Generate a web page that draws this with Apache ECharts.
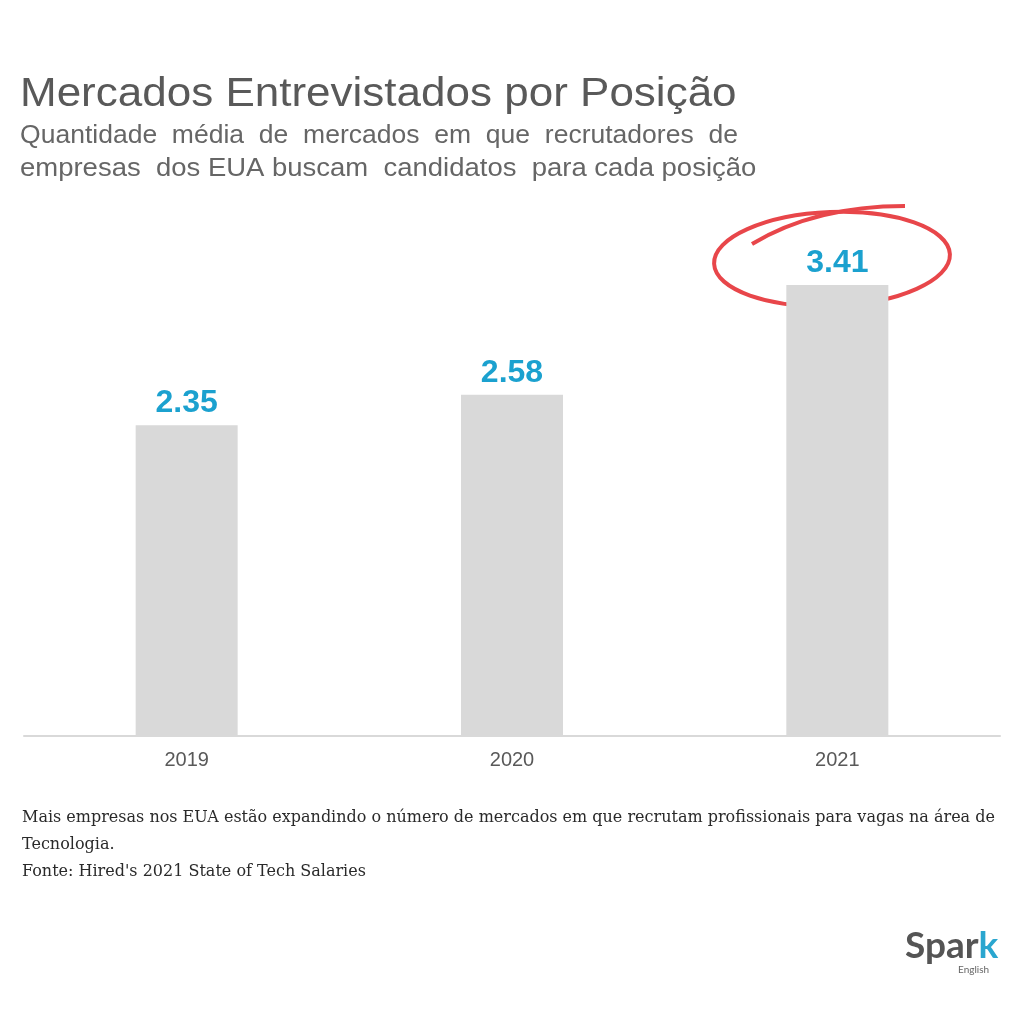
<!DOCTYPE html>
<html>
<head>
<meta charset="utf-8">
<style>html,body{margin:0;padding:0;background:#fff}#c{width:1024px;height:1024px}</style>
<script src="https://cdn.jsdelivr.net/npm/echarts@6/dist/echarts.min.js"></script>
</head>
<body>
<div id="c"></div>
<script>
var categories = ['2019', '2020', '2021'];
var values = [2.35, 2.58, 3.41];
var titleText = 'Mercados Entrevistados por Posição';
var subtitleLine1 = 'Quantidade  média  de  mercados  em  que  recrutadores  de';
var subtitleLine2 = 'empresas  dos EUA buscam  candidatos  para cada posição';
var noteLines = ['Mais empresas nos EUA estão expandindo o número de mercados em que recrutam profissionais para vagas na área de', 'Tecnologia.', "Fonte: Hired's 2021 State of Tech Salaries"];

var chart = echarts.init(document.getElementById('c'));
chart.setOption({
  backgroundColor: '#fff',
  animation: false,
  grid: {left: 24, right: 24, top: 207, bottom: 288},
  xAxis: {
    type: 'category', data: categories,
    axisLine: {lineStyle: {color: '#d9d9d9', width: 2}},
    axisTick: {show: false},
    axisLabel: {color: '#595959', fontSize: 20, fontFamily: 'Liberation Sans', margin: 14}
  },
  yAxis: {type: 'value', min: 0, max: 4, show: false, splitLine: {show: false}},
  series: [{
    type: 'bar', data: values, barWidth: 102,
    itemStyle: {color: '#d9d9d9'},
    label: {show: true, position: 'top', distance: 6, color: '#1ba1cf', fontSize: 32, fontWeight: 'bold', fontFamily: 'Liberation Sans',
      formatter: function(p){return p.value.toFixed(2);}}
  }],
  graphic: [
    {type: 'text', x: 20, y: 75, scaleX: 1.1, style: {text: titleText, fontSize: 40, fontFamily: 'Liberation Sans', fill: '#595959'}},
    {type: 'text', x: 20, y: 123, scaleX: 1.02, style: {text: subtitleLine1, fontSize: 26, fontFamily: 'Liberation Sans', fill: '#666'}},
    {type: 'text', x: 20, y: 156, scaleX: 1.057, style: {text: subtitleLine2, fontSize: 26, fontFamily: 'Liberation Sans', fill: '#666'}},
    {type: 'ellipse', shape: {cx: 832, cy: 259, rx: 118, ry: 47}, rotation: 0.04, originX: 832, originY: 259,
      style: {fill: 'none', stroke: '#e8464a', lineWidth: 4}},
    {type: 'bezierCurve', shape: {x1: 752, y1: 244, cpx1: 815, cpy1: 206, x2: 905, y2: 206}, style: {fill: 'none', stroke: '#e8464a', lineWidth: 4}},
    {type: 'text', x: 22, y: 804, style: {text: noteLines.join('\n'), fontSize: 16, lineHeight: 27, fontFamily: 'DejaVu Serif', fill: '#2a2a2a'}},
    {type: 'text', x: 905, y: 928, style: {rich: {a: {fontSize: 37, fontWeight: 'bold', fontFamily: 'Lato', fill: '#555'}, b: {fontSize: 37, fontWeight: 'bold', fontFamily: 'Lato', fill: '#2aa6cf'}}, text: '{a|Spar}{b|k}'}},
    {type: 'text', x: 958, y: 965, style: {text: 'English', fontSize: 10, fontFamily: 'Lato', fill: '#666'}}
  ]
});
</script>
</body>
</html>
